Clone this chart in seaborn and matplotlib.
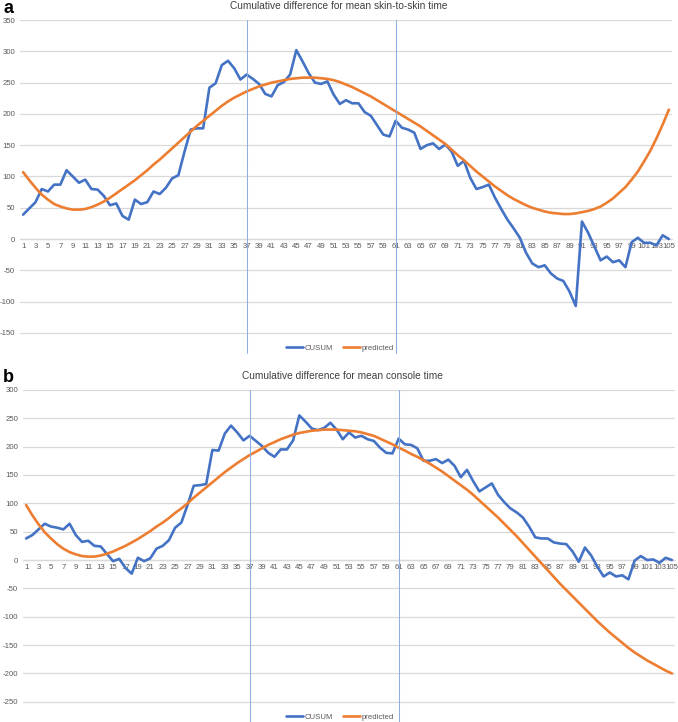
import matplotlib
matplotlib.use("Agg")
import matplotlib.pyplot as plt
from matplotlib.lines import Line2D
import seaborn as sns
import pandas as pd
import numpy as np

# ---------------- data ----------------
cases = list(range(1, 106))

skin_cusum = [39, 49, 59, 80, 76, 87, 87, 110, 100, 90,
              95, 80, 79, 69, 54, 57, 37, 31, 63, 56,
              59, 76, 72, 82, 97, 102, 140, 175, 177, 177,
              242, 249, 278, 285, 273, 255, 263, 256, 248, 232,
              228, 246, 251, 263, 302, 284, 265, 250, 248, 252,
              231, 216, 222, 217, 217, 203, 197, 182, 167, 164,
              189, 178, 175, 170, 144, 150, 153, 144, 151, 140,
              117, 125, 98, 80, 83, 87, 66, 48, 31, 17,
              2, -22, -39, -45, -42, -55, -63, -67, -84, -107,
              28, 10, -12, -34, -28, -37, -34, -45, -5, 2,
              -6, -6, -10, 6, 0]

skin_pred = [107, 94, 82, 71, 63, 56, 52, 49, 47, 47,
             48, 51, 55, 60, 66, 73, 80, 87, 94, 102,
             110, 119, 127, 136, 145, 154, 163, 172, 181, 189,
             197, 205, 213, 220, 226, 231, 236, 240, 244, 247,
             250, 252, 254, 256, 257, 258, 258, 258, 257, 256,
             254, 251, 247, 243, 238, 233, 228, 222, 216, 210,
             204, 198, 192, 186, 180, 173, 166, 159, 152, 143,
             134, 126, 117, 108, 100, 92, 84, 77, 70, 64,
             59, 54, 50, 47, 44, 42, 41, 40, 40, 41,
             43, 45, 48, 52, 58, 65, 74, 83, 95, 108,
             124, 141, 161, 183, 207]

console_cusum = [38, 44, 54, 64, 59, 57, 54, 64, 44, 32,
                 34, 25, 24, 11, -2, 2, -14, -24, 4, -2,
                 3, 20, 25, 35, 57, 66, 97, 131, 132, 134,
                 194, 193, 223, 237, 225, 211, 219, 210, 201, 189,
                 182, 195, 195, 211, 255, 244, 232, 229, 233, 242,
                 230, 213, 225, 216, 219, 213, 210, 198, 189, 188,
                 214, 204, 203, 197, 175, 175, 178, 171, 177, 166,
                 146, 159, 139, 121, 128, 135, 115, 102, 91, 84,
                 75, 59, 40, 38, 38, 31, 29, 28, 15, -3,
                 22, 8, -12, -29, -22, -29, -27, -34, -1, 7,
                 0, 1, -5, 4, 0]

console_pred = [97, 79, 63, 49, 38, 28, 20, 14, 10, 7,
                6, 6, 8, 11, 15, 20, 25, 31, 37, 44,
                51, 59, 66, 74, 83, 91, 100, 110, 119, 128,
                137, 146, 155, 163, 171, 178, 185, 191, 197, 203,
                208, 213, 217, 221, 224, 226, 228, 229, 230, 230,
                230, 229, 228, 227, 225, 222, 219, 214, 209, 204,
                198, 193, 187, 182, 176, 170, 163, 156, 148, 140,
                132, 124, 115, 105, 95, 85, 75, 64, 53, 42,
                30, 18, 6, -6, -18, -30, -42, -53, -64, -75,
                -86, -97, -108, -118, -128, -137, -146, -155, -163, -170,
                -177, -183, -189, -195, -200]

phase_breaks = [37, 61]
x_tick_values = list(range(1, 106, 2))
x_tick_labels = [str(v) for v in x_tick_values]
skin_yticks = list(range(-150, 351, 50))
console_yticks = list(range(-250, 301, 50))
titles = ["Cumulative difference for mean skin-to-skin time",
          "Cumulative difference for mean console time"]
panel_letters = ["a", "b"]
series_names = ["CUSUM", "predicted"]

# ---------------- style ----------------
sns.set_theme(style="white")
plt.rcParams['font.family'] = ['Liberation Sans', 'DejaVu Sans']

BLUE = "#4472C4"
ORANGE = "#ED7D31"
GRID = "#D9D9D9"
TICK = "#595959"
VLINE = "#8EAEDF"

W, H = 678, 722
fig = plt.figure(figsize=(W / 100, H / 100), dpi=100)


def px_axes(left, top, right, bottom):
    return fig.add_axes([left / W, 1 - bottom / H, (right - left) / W, (bottom - top) / H])


def draw_panel(ax, cusum, pred, yticks, ylim, vline_ext):
    df = pd.DataFrame({
        "case": cases * 2,
        "value": cusum + pred,
        "series": [series_names[0]] * len(cases) + [series_names[1]] * len(cases),
    })
    sns.lineplot(data=df, x="case", y="value", hue="series",
                 palette={series_names[0]: BLUE, series_names[1]: ORANGE},
                 linewidth=1.9, ax=ax, legend=False)
    ax.set_xlim(0.5, 105.5)
    ax.set_ylim(*ylim)
    ax.set_yticks(yticks)
    ax.set_yticklabels([str(v) for v in yticks])
    for v in yticks:
        ax.axhline(v, color=GRID, lw=0.9, zorder=0)
    ax.set_xticks(x_tick_values)
    ax.set_xticklabels(x_tick_labels)
    for s in ["top", "right", "left"]:
        ax.spines[s].set_visible(False)
    ax.spines["bottom"].set_position(("data", 0))
    ax.spines["bottom"].set_color(GRID)
    ax.spines["bottom"].set_linewidth(0.9)
    ax.spines["bottom"].set_zorder(0)
    ax.tick_params(axis="x", length=0, pad=3.2, labelsize=5.6, colors=TICK)
    ax.tick_params(axis="y", length=0, pad=3.5, labelsize=5.6, colors=TICK)
    ax.set_xlabel("")
    ax.set_ylabel("")
    ax.grid(False)
    for xb in phase_breaks:
        ax.axvline(xb, ymin=vline_ext, ymax=1.0, color=VLINE, lw=0.75,
                   clip_on=False, zorder=5)


# top panel
ax1 = px_axes(20, 20.1, 672, 345.4)
draw_panel(ax1, skin_cusum, skin_pred, skin_yticks, (-170, 350), -0.022)

# bottom panel
ax2 = px_axes(23, 389.9, 675, 710.3)
draw_panel(ax2, console_cusum, console_pred, console_yticks, (-265, 300), -0.037)

# titles & panel letters
fig.text(339 / W, 1 - 9 / H, titles[0], ha="center", va="baseline",
         fontsize=7.3, color="#404040")
fig.text(342 / W, 1 - 378.5 / H, titles[1], ha="center", va="baseline",
         fontsize=7.3, color="#404040")
fig.text(3 / W, 1 - 13 / H, panel_letters[0], ha="left", va="baseline",
         fontsize=13, fontweight="bold", color="black")
fig.text(3 / W, 1 - 382 / H, panel_letters[1], ha="left", va="baseline",
         fontsize=13, fontweight="bold", color="black")

# legends
handles = [Line2D([0], [0], color=BLUE, lw=1.9), Line2D([0], [0], color=ORANGE, lw=1.9)]
for ycen in (348, 717):
    fig.legend(handles, series_names, loc="center", bbox_to_anchor=(340 / W, 1 - ycen / H),
               ncol=2, frameon=False, fontsize=5.6, handlelength=2.2, handletextpad=0.2,
               columnspacing=1.2, labelcolor=TICK)

fig.savefig("out.png", dpi=100)
